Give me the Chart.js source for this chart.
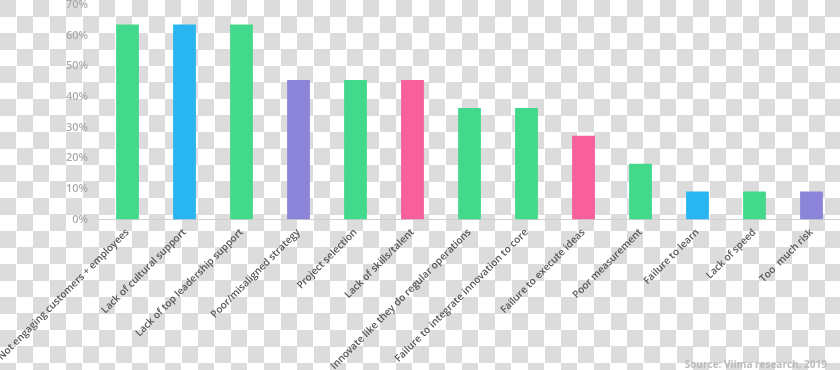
<!DOCTYPE html>
<html>
<head>
<meta charset="utf-8">
<script src="https://cdn.jsdelivr.net/npm/chart.js@4"></script>
<style>
  html, body { margin: 0; padding: 0; }
  body {
    width: 840px; height: 370px; overflow: hidden; position: relative;
    background: repeating-conic-gradient(#ffffff 0% 25%, #dcdcdc 0% 50%) 0 0 / 33px 33px;
  }
  #wrap { position: absolute; left: 0; top: 0; width: 840px; height: 370px; }
  #source {
    position: absolute; right: 13px; bottom: -1px;
    font-family: "Open Sans", sans-serif; font-weight: 700; font-size: 10px;
    color: #bcbcbc;
  }
</style>
</head>
<body>
<div id="wrap"><canvas id="c" width="840" height="370"></canvas></div>
<div id="source">Source: Viima research, 2019</div>
<script>
const categories = [
  "Not engaging customers + employees",
  "Lack of cultural support",
  "Lack of top leadership support",
  "Poor/misaligned strategy",
  "Project selection",
  "Lack of skills/talent",
  "Innovate like they do regular operations",
  "Failure to integrate innovation to core",
  "Failure to execute ideas",
  "Poor measurement",
  "Failure to learn",
  "Lack of speed",
  "Too  much risk"
];
const values = [63.6, 63.6, 63.6, 45.5, 45.5, 45.5, 36.4, 36.4, 27.3, 18.2, 9.1, 9.1, 9.1];
const yTicks = [0, 10, 20, 30, 40, 50, 60, 70];

const GREEN = "#43d98c", BLUE = "#29b6f0", PURPLE = "#8c84d9", PINK = "#f7609b";
const barColors = [GREEN, BLUE, GREEN, PURPLE, GREEN, PINK, GREEN, GREEN, PINK, GREEN, BLUE, GREEN, PURPLE];

new Chart(document.getElementById("c"), {
  type: "bar",
  data: {
    labels: categories,
    datasets: [{
      data: values,
      backgroundColor: barColors,
      borderWidth: 0,
      barPercentage: 0.4,
      categoryPercentage: 1.0
    }]
  },
  options: {
    responsive: false,
    animation: false,
    layout: { padding: { top: 5, left: 0, right: 0, bottom: 0 } },
    plugins: { legend: { display: false }, tooltip: { enabled: false } },
    scales: {
      x: {
        grid: { display: false, drawTicks: false },
        border: { display: true, color: "#d0d0d0", width: 1 },
        ticks: {
          autoSkip: false,
          minRotation: 45,
          maxRotation: 45,
          padding: 7,
          color: "#555555",
          font: { family: "Open Sans", size: 10, weight: "600" }
        },
        afterFit: (s) => { s.height = 150.5; s.paddingLeft = 0; s.paddingRight = 0; }
      },
      y: {
        min: 0,
        max: 70,
        afterBuildTicks: (s) => { s.ticks = yTicks.map(v => ({ value: v })); },
        grid: { display: false, drawTicks: false },
        border: { display: false },
        ticks: {
          padding: 11,
          color: "#ababab",
          font: { family: "Open Sans", size: 11, weight: "600" },
          callback: (v) => v + "%"
        },
        afterFit: (s) => { s.width = 99; s.paddingTop = 0; s.paddingBottom = 0; }
      }
    }
  }
});
</script>
</body>
</html>
